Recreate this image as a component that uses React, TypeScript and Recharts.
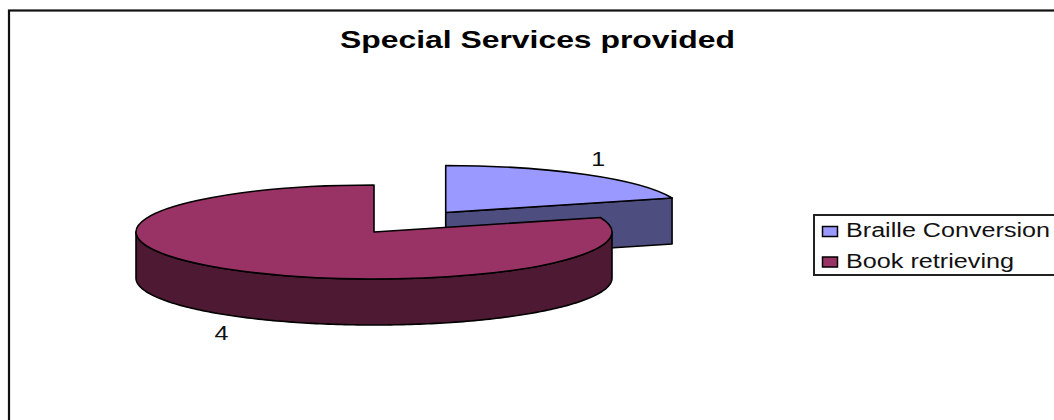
import * as React from "react";
import { PieChart, Pie, Legend } from "recharts";

const CATEGORIES = ["Braille Conversion", "Book retrieving"];
const VALUES = [1, 4];
const TOP_COLORS = ["#9999FF", "#993366"];
const SIDE_COLORS = ["#4D4D80", "#4D1933"];
const LEGEND_TEXT_WIDTHS = [204, 168];
const TITLE = "Special Services provided";

const FONT = '"Liberation Sans", Arial, sans-serif';
const WIDTH = 1054;
const HEIGHT = 420;
const TILT = 47 / 238; // vertical squash of the disc
const DEPTH = 46;
const EXPLODE = 122;
const EXPLODED_SLICE = CATEGORIES[0];

const chartData = CATEGORIES.map((name, i) => ({
  name,
  value: VALUES[i],
  fill: TOP_COLORS[i],
  side: SIDE_COLORS[i],
}));

const rad = (a: number) => (a * Math.PI) / 180;

function sliceOrigin(cx: number, cy: number, midAngle: number, name: string) {
  const d = name === EXPLODED_SLICE ? EXPLODE : 0;
  return {
    x: cx + d * Math.cos(rad(midAngle)),
    y: cy - d * TILT * Math.sin(rad(midAngle)),
  };
}

function PieSlice3D(props: any) {
  const { cx, cy, outerRadius: r, startAngle, endAngle, fill, payload } = props;
  const side = payload.side;
  const mid = (startAngle + endAngle) / 2;
  const o = sliceOrigin(cx, cy, mid, payload.name);
  const pt = (a: number, dz = 0) => ({
    x: o.x + r * Math.cos(rad(a)),
    y: o.y - r * TILT * Math.sin(rad(a)) + dz,
  });

  const s = pt(startAngle);
  const e = pt(endAngle);
  const large = startAngle - endAngle > 180 ? 1 : 0;
  const top = `M${o.x},${o.y} L${s.x},${s.y} A${r},${r * TILT} 0 ${large} 1 ${e.x},${e.y} Z`;

  // outer wall, only the part of the rim on the near side
  const rim: { x: number; y: number }[] = [];
  for (let a = startAngle; a >= endAngle; a -= 1) {
    if (Math.sin(rad(a)) <= 0) rim.push(pt(a));
  }
  let wall = "";
  if (rim.length > 1) {
    const down = rim.map((p) => `${p.x},${p.y + DEPTH}`).reverse();
    wall = `M${rim.map((p) => `${p.x},${p.y}`).join(" L")} L${down.join(" L")} Z`;
  }

  // cut face on the clockwise end of the slice
  const endVisible = Math.sin(rad(endAngle - 90)) < -0.001;
  const face = endVisible
    ? `M${o.x},${o.y} L${e.x},${e.y} L${e.x},${e.y + DEPTH} L${o.x},${o.y + DEPTH} Z`
    : "";

  return (
    <g stroke="#000" strokeWidth={1.6} strokeLinejoin="round">
      {face && <path d={face} fill={side} />}
      {wall && <path d={wall} fill={side} />}
      <path d={top} fill={fill} />
    </g>
  );
}

function SliceLabel(props: any) {
  const { cx, cy, midAngle, outerRadius, value, name } = props;
  const o = sliceOrigin(cx, cy, midAngle, name);
  const r = outerRadius * 1.09;
  const sin = Math.sin(rad(midAngle));
  const x = o.x + r * Math.cos(rad(midAngle));
  const y = o.y - r * 0.25 * sin + 6 + (sin < 0 ? DEPTH + 4 : 0);
  return (
    <text
      x={x}
      y={y}
      textAnchor="middle"
      fontFamily={FONT}
      fontSize={20}
      fill="#111"
      textLength={14}
      lengthAdjust="spacingAndGlyphs"
    >
      {value}
    </text>
  );
}

function LegendBox({ payload }: any) {
  return (
    <div style={{ border: "2px solid #222", width: 260, height: 58, boxSizing: "content-box" }}>
      <svg width={260} height={58} style={{ display: "block" }}>
        {(payload ?? []).map((item: any, i: number) => (
          <g key={item.value}>
            <rect
              x={7.5}
              y={10.5 + i * 30.5}
              width={15}
              height={10}
              fill={TOP_COLORS[i]}
              stroke="#000"
              strokeWidth={1.5}
            />
            <text
              x={31}
              y={21 + i * 31}
              fontFamily={FONT}
              fontSize={20}
              fill="#111"
              textLength={LEGEND_TEXT_WIDTHS[i]}
              lengthAdjust="spacingAndGlyphs"
            >
              {item.value}
            </text>
          </g>
        ))}
      </svg>
    </div>
  );
}

export default function App() {
  return (
    <div
      style={{
        position: "absolute",
        left: 0,
        top: 0,
        width: WIDTH,
        height: HEIGHT,
        overflow: "hidden",
        background: "#fff",
      }}
    >
      <PieChart width={WIDTH} height={HEIGHT} margin={{ top: 0, right: 0, bottom: 0, left: 0 }}>
        <rect x={9} y={10.5} width={1200} height={600} fill="none" stroke="#111" strokeWidth={2.2} />
        <text
          x={537.5}
          y={48}
          textAnchor="middle"
          fontFamily={FONT}
          fontWeight="bold"
          fontSize={24}
          fill="#000"
          textLength={395}
          lengthAdjust="spacingAndGlyphs"
        >
          {TITLE}
        </text>
        <Pie
          data={chartData}
          dataKey="value"
          nameKey="name"
          cx={374}
          cy={232}
          outerRadius={238}
          startAngle={90}
          endAngle={-270}
          stroke="#000"
          shape={PieSlice3D}
          label={SliceLabel}
          labelLine={false}
          isAnimationActive={false}
        />
        <Legend
          layout="vertical"
          align="right"
          verticalAlign="top"
          itemSorter={null}
          content={LegendBox}
          wrapperStyle={{ left: 813, top: 214, right: "auto", bottom: "auto", width: 264, height: 62 }}
        />
      </PieChart>
    </div>
  );
}
